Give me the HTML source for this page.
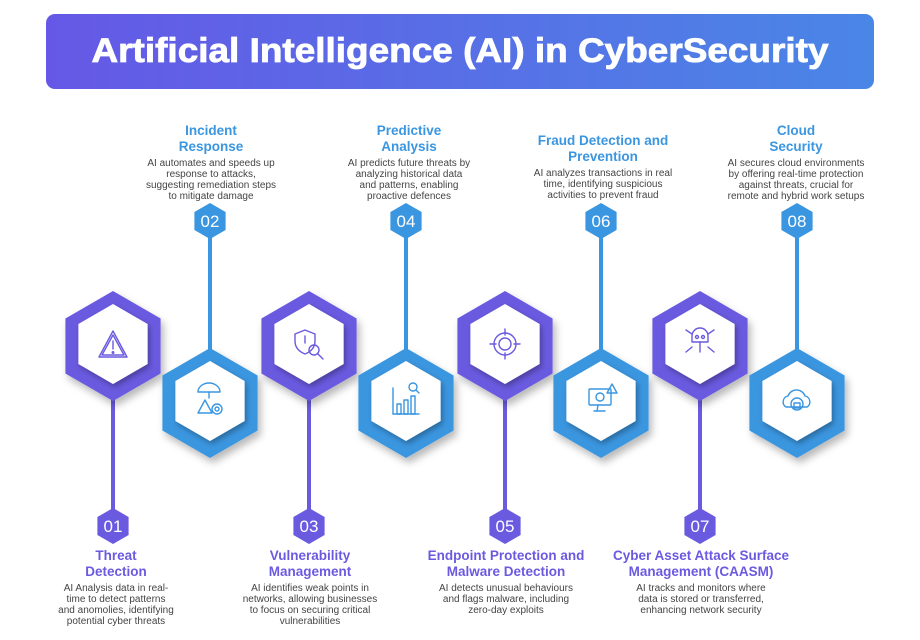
<!DOCTYPE html>
<html><head><meta charset="utf-8"><style>
html,body{margin:0;padding:0;background:#fff;}
svg{display:block;font-family:"Liberation Sans",sans-serif;}
.t{font-weight:bold;font-size:13.5px;text-anchor:middle;}
.b{font-size:10px;fill:#444;text-anchor:middle;}
.n{font-size:17px;fill:#fff;text-anchor:middle;}
.ic{fill:none;stroke-width:1.4;stroke-linejoin:round;stroke-linecap:round;}
</style></head><body>
<svg width="920" height="640" viewBox="0 0 920 640">
<defs>
<linearGradient id="g" x1="0" x2="1"><stop offset="0" stop-color="#6558e6"/><stop offset="1" stop-color="#4a86e6"/></linearGradient>
<filter id="s" x="-30%" y="-30%" width="160%" height="160%"><feDropShadow dx="3" dy="5" stdDeviation="4" flood-color="#000" flood-opacity="0.28"/></filter>
<filter id="s2" x="-30%" y="-30%" width="160%" height="160%"><feDropShadow dx="2" dy="3" stdDeviation="3" flood-color="#000" flood-opacity="0.3"/></filter>
</defs>
<rect x="46" y="14" width="828" height="75" rx="9" fill="url(#g)"/>
<text x="460" y="62" fill="#fff" font-size="34" font-weight="bold" text-anchor="middle" textLength="737" lengthAdjust="spacingAndGlyphs" stroke="#fff" stroke-width="0.8">Artificial Intelligence (AI) in CyberSecurity</text>

<g stroke-width="4">
<line x1="113" y1="390" x2="113" y2="515" stroke="#6a5ae0"/>
<line x1="309" y1="390" x2="309" y2="515" stroke="#6a5ae0"/>
<line x1="505" y1="390" x2="505" y2="515" stroke="#6a5ae0"/>
<line x1="700" y1="390" x2="700" y2="515" stroke="#6a5ae0"/>
<line x1="210" y1="225" x2="210" y2="350" stroke="#3a96e0"/>
<line x1="406" y1="225" x2="406" y2="350" stroke="#3a96e0"/>
<line x1="601" y1="225" x2="601" y2="350" stroke="#3a96e0"/>
<line x1="797" y1="225" x2="797" y2="350" stroke="#3a96e0"/>
</g>

<defs>
<polygon id="ho" points="0,-55 47.6,-27.5 47.6,27.5 0,55 -47.6,27.5 -47.6,-27.5"/>
<polygon id="hi" points="0,-40 34.6,-20 34.6,20 0,40 -34.6,20 -34.6,-20"/>
<polygon id="hs" points="0,-18 15.6,-9 15.6,9 0,18 -15.6,9 -15.6,-9"/>
</defs>
<g fill="#6a5ae0">
<use href="#ho" x="113" y="346" filter="url(#s)"/>
<use href="#ho" x="309" y="346" filter="url(#s)"/>
<use href="#ho" x="505" y="346" filter="url(#s)"/>
<use href="#ho" x="700" y="346" filter="url(#s)"/>
</g>
<g fill="#3a96e0">
<use href="#ho" x="210" y="403" filter="url(#s)"/>
<use href="#ho" x="406" y="403" filter="url(#s)"/>
<use href="#ho" x="601" y="403" filter="url(#s)"/>
<use href="#ho" x="797" y="403" filter="url(#s)"/>
</g>
<g fill="#fff">
<use href="#hi" x="113" y="344" filter="url(#s2)"/>
<use href="#hi" x="309" y="344" filter="url(#s2)"/>
<use href="#hi" x="505" y="344" filter="url(#s2)"/>
<use href="#hi" x="700" y="344" filter="url(#s2)"/>
<use href="#hi" x="210" y="401" filter="url(#s2)"/>
<use href="#hi" x="406" y="401" filter="url(#s2)"/>
<use href="#hi" x="601" y="401" filter="url(#s2)"/>
<use href="#hi" x="797" y="401" filter="url(#s2)"/>
</g>
<g fill="#6a5ae0">
<use href="#hs" x="113" y="526"/><use href="#hs" x="309" y="526"/><use href="#hs" x="505" y="526"/><use href="#hs" x="700" y="526"/>
</g>
<g fill="#3a96e0">
<use href="#hs" x="210" y="221"/><use href="#hs" x="406" y="221"/><use href="#hs" x="601" y="221"/><use href="#hs" x="797" y="221"/>
</g>
<text class="n" x="113" y="532">01</text><text class="n" x="309" y="532">03</text><text class="n" x="505" y="532">05</text><text class="n" x="700" y="532">07</text>
<text class="n" x="210" y="227">02</text><text class="n" x="406" y="227">04</text><text class="n" x="601" y="227">06</text><text class="n" x="797" y="227">08</text>

<g class="ic" stroke="#6a5ae0">
<path d="M113,331 L127,357 L99,357 Z"/><path d="M113,335 L124,355 L102,355 Z"/><line x1="113" y1="341" x2="113" y2="349"/><circle cx="113" cy="352.5" r="0.8"/>
<path d="M305,330 l10,4 v7 c0,7 -5,11 -10,13 c-5,-2 -10,-6 -10,-13 v-7 z"/><line x1="305" y1="336" x2="305" y2="343"/><circle cx="314" cy="350" r="5"/><line x1="318" y1="354" x2="323" y2="359"/>
<circle cx="505" cy="344" r="11"/><circle cx="505" cy="344" r="6"/><line x1="505" y1="329" x2="505" y2="335"/><line x1="505" y1="353" x2="505" y2="359"/><line x1="490" y1="344" x2="496" y2="344"/><line x1="514" y1="344" x2="520" y2="344"/>
<path d="M692,336 a8,8 0 1 1 16,0 v6 h-16 z"/><circle cx="697" cy="337" r="1.5"/><circle cx="703" cy="337" r="1.5"/><line x1="686" y1="330" x2="692" y2="334"/><line x1="714" y1="330" x2="708" y2="334"/><line x1="686" y1="352" x2="692" y2="347"/><line x1="714" y1="352" x2="708" y2="347"/><line x1="700" y1="342" x2="700" y2="352"/>
</g>
<g class="ic" stroke="#3a96e0">
<path d="M198,392 a11,9 0 0 1 22,0 z"/><line x1="209" y1="392" x2="209" y2="398"/><path d="M205,400 L212,413 L198,413 Z"/><circle cx="217" cy="409" r="5"/><circle cx="217" cy="409" r="2"/>
<line x1="393" y1="388" x2="393" y2="414"/><line x1="393" y1="414" x2="419" y2="414"/><rect x="397" y="404" width="4" height="10"/><rect x="404" y="400" width="4" height="14"/><rect x="411" y="396" width="4" height="18"/><circle cx="413" cy="387" r="4"/><line x1="416" y1="390" x2="419" y2="393"/>
<rect x="589" y="389" width="22" height="16" rx="1"/><line x1="598" y1="405" x2="597" y2="411"/><line x1="594" y1="411" x2="605" y2="411"/><circle cx="600" cy="397" r="4"/><path d="M612,384 l5,9 h-10 z"/>
<path d="M786,407 a6,6 0 0 1 2,-11 a9,9 0 0 1 17,0 a6,6 0 0 1 2,11 z"/><circle cx="797" cy="404" r="6"/><rect x="794" y="403" width="6" height="5"/>
</g>

<g fill="#3a96e0">
<text class="t" x="211" y="135">Incident</text><text class="t" x="211" y="151">Response</text>
<text class="t" x="409" y="135">Predictive</text><text class="t" x="409" y="151">Analysis</text>
<text class="t" x="603" y="145">Fraud Detection and</text><text class="t" x="603" y="161">Prevention</text>
<text class="t" x="796" y="135">Cloud</text><text class="t" x="796" y="151">Security</text>
</g>
<text class="b" x="211" y="166">AI automates and speeds up</text><text class="b" x="211" y="177">response to attacks,</text><text class="b" x="211" y="188">suggesting remediation steps</text><text class="b" x="211" y="199">to mitigate damage</text>
<text class="b" x="409" y="166">AI predicts future threats by</text><text class="b" x="409" y="177">analyzing historical data</text><text class="b" x="409" y="188">and patterns, enabling</text><text class="b" x="409" y="199">proactive defences</text>
<text class="b" x="603" y="176">AI analyzes transactions in real</text><text class="b" x="603" y="187">time, identifying suspicious</text><text class="b" x="603" y="198">activities to prevent fraud</text>
<text class="b" x="796" y="166">AI secures cloud environments</text><text class="b" x="796" y="177">by offering real-time protection</text><text class="b" x="796" y="188">against threats, crucial for</text><text class="b" x="796" y="199">remote and hybrid work setups</text>

<g fill="#6a5ae0">
<text class="t" x="116" y="560">Threat</text><text class="t" x="116" y="576">Detection</text>
<text class="t" x="310" y="560">Vulnerability</text><text class="t" x="310" y="576">Management</text>
<text class="t" x="506" y="560">Endpoint Protection and</text><text class="t" x="506" y="576">Malware Detection</text>
<text class="t" x="701" y="560">Cyber Asset Attack Surface</text><text class="t" x="701" y="576">Management (CAASM)</text>
</g>
<text class="b" x="116" y="591">AI Analysis data in real-</text><text class="b" x="116" y="602">time to detect patterns</text><text class="b" x="116" y="613">and anomolies, identifying</text><text class="b" x="116" y="624">potential cyber threats</text>
<text class="b" x="310" y="591">AI identifies weak points in</text><text class="b" x="310" y="602">networks, allowing businesses</text><text class="b" x="310" y="613">to focus on securing critical</text><text class="b" x="310" y="624">vulnerabilities</text>
<text class="b" x="506" y="591">AI detects unusual behaviours</text><text class="b" x="506" y="602">and flags malware, including</text><text class="b" x="506" y="613">zero-day exploits</text>
<text class="b" x="701" y="591">AI tracks and monitors where</text><text class="b" x="701" y="602">data is stored or transferred,</text><text class="b" x="701" y="613">enhancing network security</text>
</svg>
</body></html>
